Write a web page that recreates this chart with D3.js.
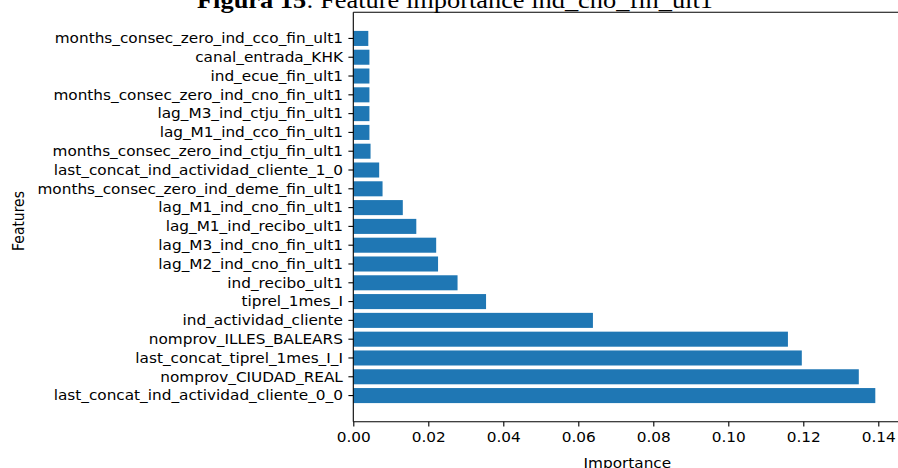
<!DOCTYPE html>
<html>
<head>
<meta charset="utf-8">
<script src="https://cdn.jsdelivr.net/npm/d3@7"></script>
<style>
  html, body { margin: 0; padding: 0; background: #ffffff; }
  svg { display: block; }
</style>
</head>
<body>
<svg id="chart" width="898" height="468"></svg>
<script>
// Feature names, listed from most to least important (bottom bar first)
const features = [
  "last_concat_ind_actividad_cliente_0_0",
  "nomprov_CIUDAD_REAL",
  "last_concat_tiprel_1mes_I_I",
  "nomprov_ILLES_BALEARS",
  "ind_actividad_cliente",
  "tiprel_1mes_I",
  "ind_recibo_ult1",
  "lag_M2_ind_cno_fin_ult1",
  "lag_M3_ind_cno_fin_ult1",
  "lag_M1_ind_recibo_ult1",
  "lag_M1_ind_cno_fin_ult1",
  "months_consec_zero_ind_deme_fin_ult1",
  "last_concat_ind_actividad_cliente_1_0",
  "months_consec_zero_ind_ctju_fin_ult1",
  "lag_M1_ind_cco_fin_ult1",
  "lag_M3_ind_ctju_fin_ult1",
  "months_consec_zero_ind_cno_fin_ult1",
  "ind_ecue_fin_ult1",
  "canal_entrada_KHK",
  "months_consec_zero_ind_cco_fin_ult1"
];

// Importance of each feature, same order as above
const importances = [
  0.1392, 0.1348, 0.1196, 0.1159, 0.0639,
  0.0354, 0.0278, 0.0226, 0.0221, 0.0168,
  0.0132, 0.0078, 0.0069, 0.0046, 0.0043,
  0.0043, 0.0043, 0.0043, 0.0043, 0.0040
];

// X axis tick values and labels
const xTicks = [0, 0.02, 0.04, 0.06, 0.08, 0.10, 0.12, 0.14];
const xTickLabels = ["0.00", "0.02", "0.04", "0.06", "0.08", "0.10", "0.12", "0.14"];

const titleBold = "Figura 15";
const titleRest = ": Feature importance ind_cno_fin_ult1";
const xLabel = "Importance";
const yLabel = "Features";

const rows = features.map((f, i) => ({ feature: f, value: importances[i] }));

const svg = d3.select("#chart");
const font = "'DejaVu Sans', sans-serif";
const fontSize = 13.9;
const stretch = 1.1;   // text in this figure is set slightly wide
const barColor = "#1f77b4";

const plot = { left: 353.3, top: 12.3, bottom: 421.7 };
const pxPerUnit = 3750;
const xMax = d3.max(importances) * 1.05;

const x = d3.scaleLinear()
  .domain([0, xMax])
  .range([plot.left, plot.left + xMax * pxPerUnit]);

// least important feature at the top
const y = d3.scaleBand()
  .domain(features.slice().reverse())
  .range([plot.top, plot.bottom])
  .paddingInner(0.2)
  .paddingOuter(0.99);

svg.append("rect").attr("width", 898).attr("height", 468).attr("fill", "#fff");

// bars
svg.append("g")
  .selectAll("rect")
  .data(rows)
  .join("rect")
  .attr("x", x(0))
  .attr("y", d => y(d.feature))
  .attr("width", d => x(d.value) - x(0))
  .attr("height", y.bandwidth())
  .attr("fill", barColor);

// axes
const tickLen = 4.9;
const tickPad = 5.5;
const xAxis = d3.axisBottom(x)
  .tickValues(xTicks)
  .tickFormat((d, i) => xTickLabels[i])
  .tickSizeInner(tickLen)
  .tickSizeOuter(0)
  .tickPadding(tickPad);

const gx = svg.append("g")
  .attr("transform", `translate(0,${plot.bottom})`)
  .call(xAxis);

const yAxis = d3.axisLeft(y)
  .tickSizeInner(tickLen)
  .tickSizeOuter(0)
  .tickPadding(tickPad);

const gy = svg.append("g")
  .attr("transform", `translate(${plot.left},0)`)
  .call(yAxis);

[gx, gy].forEach(g => {
  g.selectAll("text")
    .attr("font-family", font)
    .attr("font-size", fontSize)
    .attr("fill", "#000")
    .attr("transform", `scale(${stretch},1)`);
  g.selectAll("line").attr("stroke", "#000").attr("stroke-width", 1.1);
  g.select(".domain").remove();
});
gy.selectAll("text")
  .attr("x", -(tickLen + tickPad) / stretch)
  .attr("dy", "0.34em");
gx.selectAll("text").attr("dy", "0.74em");

// frame (spines)
const frame = svg.append("g")
  .attr("stroke", "#000")
  .attr("stroke-width", 1.1)
  .attr("fill", "none");
frame.append("line")
  .attr("x1", plot.left).attr("x2", x(xMax))
  .attr("y1", plot.top).attr("y2", plot.top);
frame.append("line")
  .attr("x1", plot.left).attr("x2", x(xMax))
  .attr("y1", plot.bottom).attr("y2", plot.bottom);
frame.append("line")
  .attr("x1", plot.left).attr("x2", plot.left)
  .attr("y1", plot.top).attr("y2", plot.bottom);
frame.append("line")
  .attr("x1", x(xMax)).attr("x2", x(xMax))
  .attr("y1", plot.top).attr("y2", plot.bottom);

// axis titles
svg.append("text")
  .attr("transform", `translate(${(plot.left + x(xMax)) / 2},468) scale(${stretch},1)`)
  .attr("text-anchor", "middle")
  .attr("font-family", font)
  .attr("font-size", fontSize)
  .text(xLabel);

svg.append("text")
  .attr("transform", `translate(24,221) scale(${stretch},1) rotate(-90)`)
  .attr("text-anchor", "middle")
  .attr("font-family", font)
  .attr("font-size", fontSize)
  .text(yLabel);

// caption above the chart
const title = svg.append("text")
  .attr("transform", `translate(197,8) scale(${stretch},1)`)
  .attr("font-family", "'Liberation Serif', 'Times New Roman', serif")
  .attr("font-size", 24)
  .attr("fill", "#000");
title.append("tspan").attr("font-weight", "bold").text(titleBold);
title.append("tspan").text(titleRest);
</script>
</body>
</html>
